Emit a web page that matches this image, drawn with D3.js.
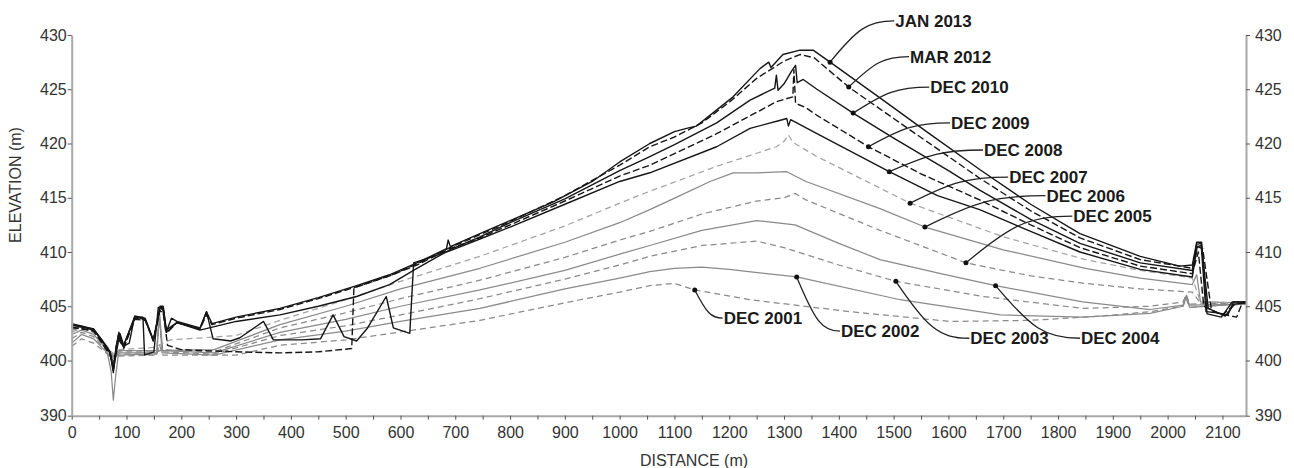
<!DOCTYPE html>
<html>
<head>
<meta charset="utf-8">
<script src="https://d3js.org/d3.v7.min.js"></script>
<style>
  body { margin: 0; background: #fff; }
  svg { display: block; font-family: "Liberation Sans", Arial, sans-serif; }
  .axis text { font-size: 16px; fill: #333; font-family: "Liberation Sans", Arial, sans-serif; }
  .axis .domain { stroke: #a8a8a8; stroke-width: 2; }
  .axis .tick line { stroke: #555; }
  .axis-title { font-size: 16px; fill: #333; }
  .survey-label { font-size: 17px; font-weight: bold; fill: #1a1a1a; }
  .leader { fill: none; stroke: #222; stroke-width: 1.3; }
  .dot { fill: #111; }
</style>
</head>
<body>
<script>
// survey profiles: [distance (m), elevation (m)]
var dec2001 = [[0,401.3],[18,402.0],[40,401.6],[65,400.6],[76,399.8],[85,400.4],[155,400.5],[160,401.5],[166,400.5],[300,400.5],[380,401.4],[500,401.9],[623,402.8],[745,403.7],[928,405.6],[1000,406.3],[1055,406.9],[1100,407.1],[1137,406.5],[1238,405.6],[1420,404.5],[1603,403.6],[1750,403.7],[1880,404.1],[1968,404.5],[2028,405.0],[2034,405.7],[2040,404.9],[2100,405.1],[2143,405.2]];
var dec2002 = [[0,401.6],[18,402.4],[40,402.0],[65,400.7],[72,398.0],[76,392.8],[80,397.0],[85,400.5],[155,400.6],[160,404.2],[165,400.7],[260,400.5],[380,401.9],[500,402.7],[600,403.6],[745,404.8],[900,406.6],[1000,407.6],[1055,408.2],[1100,408.5],[1150,408.6],[1200,408.4],[1323,407.7],[1512,405.6],[1695,404.2],[1845,404.0],[1968,404.35],[2028,405.0],[2034,405.9],[2040,404.9],[2100,405.1],[2143,405.2]];
var dec2003 = [[0,402.0],[18,402.6],[40,402.2],[65,400.8],[76,400.0],[85,400.6],[155,400.6],[160,403.8],[166,400.8],[260,400.6],[380,402.3],[500,403.2],[600,404.2],[745,405.7],[900,407.5],[1000,408.8],[1055,409.6],[1150,410.6],[1250,411.0],[1300,410.4],[1400,408.8],[1504,407.3],[1663,405.9],[1845,404.8],[1968,405.0],[2028,405.4],[2034,406.1],[2040,405.2],[2143,405.3]];
var dec2004 = [[0,402.4],[18,402.8],[40,402.4],[65,401.0],[76,400.2],[85,400.7],[155,400.7],[160,404.5],[166,400.9],[260,400.7],[380,402.6],[500,403.8],[600,405.0],[745,406.5],[900,408.3],[1000,409.8],[1055,410.6],[1150,412.0],[1250,412.9],[1320,412.5],[1400,410.8],[1475,409.3],[1586,408.0],[1686,406.9],[1845,405.4],[1968,404.7],[2028,405.1],[2034,406.0],[2040,405.1],[2143,405.2]];
var dec2005 = [[0,402.8],[18,403.0],[40,402.6],[65,401.0],[76,400.3],[85,400.8],[155,400.8],[166,401.0],[260,400.8],[380,403.0],[500,404.4],[600,405.7],[745,407.4],[900,409.5],[1000,411.1],[1055,411.9],[1150,413.5],[1250,414.7],[1300,415.0],[1320,415.4],[1340,414.8],[1475,412.0],[1632,409.0],[1750,407.8],[1850,407.1],[1950,406.6],[2045,406.3],[2060,405.3],[2143,405.3]];
var dec2006 = [[0,403.0],[18,403.1],[40,402.8],[65,401.2],[76,400.4],[85,400.9],[155,400.9],[260,401.0],[380,403.3],[500,405.0],[600,406.6],[745,408.5],[900,410.9],[1000,412.7],[1055,413.9],[1110,415.2],[1165,416.5],[1207,417.3],[1250,417.3],[1305,417.4],[1340,416.5],[1475,414.0],[1557,412.3],[1700,410.2],[1850,408.5],[1950,407.6],[2045,407.0],[2053,407.9],[2060,405.4],[2143,405.3]];
var dec2007 = [[0,402.6],[18,403.0],[40,402.7],[65,401.3],[76,400.6],[85,401.0],[150,401.2],[180,401.9],[300,402.3],[380,403.7],[500,405.6],[600,407.3],[745,409.6],[900,412.4],[1000,414.5],[1055,415.6],[1177,417.9],[1250,419.1],[1286,419.7],[1300,420.2],[1308,420.8],[1316,420.1],[1360,418.8],[1530,414.5],[1700,411.4],[1850,409.3],[1950,408.3],[2045,407.6],[2060,405.4],[2143,405.3]];
var dec2008 = [[0,403.4],[15,403.2],[40,402.9],[55,401.9],[70,400.8],[76,398.5],[85,402.3],[94,401.3],[115,404.0],[134,403.8],[149,401.9],[161,404.9],[167,404.9],[173,402.6],[192,403.5],[234,402.9],[246,404.5],[258,402.0],[290,401.8],[307,402.1],[350,403.6],[368,401.9],[420,401.9],[454,402.0],[477,404.2],[497,402.2],[520,401.8],[540,403.0],[574,405.9],[587,403.0],[617,402.5],[624,409.0],[690,410.1],[745,411.2],[800,412.3],[900,414.4],[1000,416.5],[1055,417.3],[1177,419.7],[1238,421.4],[1290,422.1],[1305,422.3],[1308,421.6],[1312,422.2],[1360,420.9],[1492,417.4],[1580,415.2],[1657,413.9],[1750,411.9],[1840,410.0],[1950,408.4],[2045,407.7],[2054,410.5],[2062,410.6],[2074,404.8],[2105,404.1],[2122,405.2],[2143,405.3]];
var dec2009 = [[0,403.0],[15,403.0],[40,402.7],[55,401.7],[70,400.6],[76,399.0],[85,402.0],[95,401.2],[115,403.8],[134,403.7],[149,401.8],[161,404.6],[167,404.4],[175,401.4],[200,401.0],[300,400.8],[380,400.7],[450,400.8],[511,401.1],[515,406.7],[580,407.8],[630,408.8],[690,410.3],[745,411.3],[800,412.5],[900,414.7],[1000,417.0],[1055,418.0],[1177,420.9],[1286,423.85],[1316,424.3],[1318,426.8],[1321,423.7],[1340,423.3],[1360,422.6],[1454,419.7],[1550,417.2],[1657,414.8],[1750,412.5],[1840,410.4],[1950,408.7],[2045,408.0],[2056,410.0],[2066,405.0],[2095,404.3],[2126,404.0],[2136,405.3],[2143,405.4]];
var dec2010 = [[0,403.2],[15,403.2],[40,402.8],[55,401.9],[70,400.8],[76,398.2],[82,400.9],[88,402.5],[95,401.4],[115,404.0],[130,404.0],[133,400.5],[150,400.8],[158,404.9],[166,404.8],[172,402.8],[192,403.5],[234,402.8],[300,403.6],[380,404.2],[450,405.0],[520,405.9],[580,407.0],[630,408.5],[690,410.2],[745,411.4],[800,412.7],[900,414.9],[1000,417.5],[1055,418.8],[1100,419.9],[1177,421.9],[1238,424.0],[1283,425.1],[1286,426.3],[1289,424.9],[1300,425.5],[1314,426.7],[1321,427.2],[1324,425.6],[1335,425.9],[1360,425.0],[1426,422.8],[1500,420.5],[1600,417.5],[1657,415.7],[1750,413.0],[1840,410.8],[1950,409.0],[2045,408.3],[2053,410.7],[2061,410.8],[2070,404.5],[2090,404.4],[2110,404.2],[2120,405.4],[2143,405.4]];
var mar2012 = [[0,403.1],[15,402.9],[40,402.8],[55,401.6],[70,400.5],[76,398.8],[82,401.6],[88,402.3],[95,401.1],[115,403.9],[134,403.8],[149,401.8],[161,404.8],[167,404.7],[173,402.5],[192,403.5],[234,402.9],[246,404.2],[256,403.3],[300,403.9],[380,404.7],[450,405.7],[520,406.8],[580,407.8],[630,408.9],[690,410.4],[745,411.6],[800,412.8],[900,415.2],[1000,418.0],[1055,419.7],[1100,420.6],[1150,421.9],[1200,423.8],[1250,426.0],[1300,427.6],[1329,428.2],[1355,427.9],[1418,425.2],[1500,422.3],[1600,418.8],[1657,416.8],[1750,413.8],[1840,411.3],[1950,409.3],[2045,408.5],[2055,410.5],[2064,410.3],[2080,404.6],[2100,404.2],[2125,405.3],[2143,405.3]];
var jan2013 = [[0,403.3],[15,403.1],[40,402.9],[55,401.8],[70,400.7],[76,397.8],[81,401.2],[86,402.6],[94,401.3],[105,401.6],[115,404.1],[134,403.9],[149,401.9],[155,403.2],[161,405.0],[167,405.0],[173,402.7],[182,403.9],[192,403.6],[234,403.0],[246,404.5],[256,403.4],[300,404.0],[380,404.8],[450,405.8],[520,406.9],[580,407.9],[630,409.0],[684,410.3],[687,411.1],[691,410.5],[745,411.7],[800,412.9],[878,414.6],[950,416.5],[1000,418.3],[1055,420.0],[1100,421.1],[1122,421.4],[1140,421.6],[1207,424.3],[1256,426.9],[1272,427.5],[1276,427.0],[1298,428.2],[1329,428.6],[1353,428.6],[1384,427.5],[1475,424.2],[1560,421.1],[1657,417.6],[1750,414.4],[1840,411.7],[1950,409.6],[2022,408.7],[2045,408.8],[2053,410.9],[2062,410.9],[2072,404.3],[2098,404.0],[2118,405.4],[2143,405.4]];

var surveyNames = ["DEC 2001", "DEC 2002", "DEC 2003", "DEC 2004", "DEC 2005", "DEC 2006",
                   "DEC 2007", "DEC 2008", "DEC 2009", "DEC 2010", "MAR 2012", "JAN 2013"];
var surveyData = [dec2001, dec2002, dec2003, dec2004, dec2005, dec2006,
                  dec2007, dec2008, dec2009, dec2010, mar2012, jan2013];

// where each label's dot sits (distance) and where its text starts (distance, elevation)
var labelDotDist = [1137, 1323, 1504, 1686, 1632, 1557, 1530, 1492, 1454, 1426, 1418, 1384];
var labelTextDist = [1188, 1402, 1638, 1840, 1826, 1777, 1709, 1663, 1603, 1565, 1528, 1501];
var labelTextElev = [403.9, 402.7, 402.05, 402.05, 413.3, 415.2, 416.9, 419.4, 421.9, 425.2, 428.0, 431.3];

var yTickValues = [390, 400, 405, 410, 415, 420, 425, 430];
var xTickLabels = [0, 100, 200, 300, 400, 500, 600, 700, 800, 900, 1000,
                   1100, 1200, 1300, 1400, 1500, 1600, 1700, 1800, 1900, 2000, 2100];

var width = 1294, height = 468;

var svg = d3.select("body").append("svg")
    .attr("width", width)
    .attr("height", height);

var x = d3.scaleLinear()
    .domain([0, 2143])
    .range([71.7, 1246]);

// broken axis: 390-400 squeezed into the space of ~5 m
var y = d3.scaleLinear()
    .domain([390, 400, 430])
    .range([415.7, 360.5, 35]);

// line styles per survey
function styleFor(i) {
  var black = i >= 7;
  var dashed = (i % 2 == 0);
  return {
    stroke: black ? "#161616" : (i == 6 ? "#a3a3a3" : "#8a8a8a"),
    width: black ? 1.4 : 1.25,
    dash: dashed ? (black ? "7,3" : "6,4") : null
  };
}

var line = d3.line()
    .x(function(d) { return x(d[0]); })
    .y(function(d) { return y(d[1]); });

var lines = svg.append("g");

lines.selectAll("path")
    .data(surveyData)
  .enter().append("path")
    .attr("fill", "none")
    .attr("stroke", function(d, i) { return styleFor(i).stroke; })
    .attr("stroke-width", function(d, i) { return styleFor(i).width; })
    .attr("stroke-dasharray", function(d, i) { return styleFor(i).dash; })
    .attr("stroke-linejoin", "round")
    .attr("d", line);

// axes
var xMinor = xTickLabels.concat(xTickLabels.map(function(v) { return v + 50; }))
    .filter(function(v) { return v <= 2143; });

svg.append("g")
    .attr("class", "axis")
    .attr("transform", "translate(0," + y(390) + ")")
    .call(d3.axisBottom(x)
      .tickValues(xMinor.sort(d3.ascending))
      .tickSize(4)
      .tickSizeOuter(0)
      .tickPadding(7)
      .tickFormat(function(v) { return v % 100 == 0 ? v : ""; }))
    .attr("font-family", null)
    .attr("font-size", null);

svg.append("g")
    .attr("class", "axis")
    .attr("transform", "translate(" + x(0) + ",0)")
    .call(d3.axisLeft(y)
      .tickValues(yTickValues)
      .tickSize(4)
      .tickSizeOuter(0)
      .tickPadding(1))
    .attr("font-family", null)
    .attr("font-size", null);

svg.append("g")
    .attr("class", "axis")
    .attr("transform", "translate(" + x(2143) + ",0)")
    .call(d3.axisRight(y)
      .tickValues(yTickValues)
      .tickSize(4)
      .tickSizeOuter(0)
      .tickPadding(5))
    .attr("font-family", null)
    .attr("font-size", null);

svg.append("text")
    .attr("class", "axis-title")
    .attr("text-anchor", "middle")
    .attr("transform", "translate(15,185) rotate(-90)")
    .attr("dy", "0.35em")
    .text("ELEVATION (m)");

svg.append("text")
    .attr("class", "axis-title")
    .attr("text-anchor", "middle")
    .attr("x", 694)
    .attr("y", 460)
    .attr("dy", "0.35em")
    .text("DISTANCE (m)");

// labels with leader lines
function valueAt(pts, d) {
  var i = d3.bisector(function(p) { return p[0]; }).left(pts, d);
  if (i <= 0) return pts[0][1];
  if (i >= pts.length) return pts[pts.length - 1][1];
  var a = pts[i - 1], b = pts[i];
  return a[1] + (b[1] - a[1]) * (d - a[0]) / (b[0] - a[0]);
}

function leader(x0, y0, x1, y1) {
  var dx = x1 - x0, dy = y1 - y0;
  return "M" + x0 + "," + y0 +
    "C" + (x0 + dx * 0.42) + "," + (y0 + dy * 0.8) +
    " " + (x0 + dx * 0.58) + "," + y1 +
    " " + x1 + "," + y1;
}

var labels = svg.append("g");

surveyNames.forEach(function(name, i) {
  var dx = x(labelDotDist[i]),
      dy = y(valueAt(surveyData[i], labelDotDist[i])),
      tx = x(labelTextDist[i]),
      ty = y(labelTextElev[i]);

  labels.append("path")
      .attr("class", "leader")
      .attr("d", leader(dx, dy, tx, ty));

  labels.append("circle")
      .attr("class", "dot")
      .attr("cx", dx)
      .attr("cy", dy)
      .attr("r", 2.5);

  labels.append("text")
      .attr("class", "survey-label")
      .attr("x", tx + 1)
      .attr("y", ty)
      .attr("dy", "0.35em")
      .text(name);
});
</script>
</body>
</html>
